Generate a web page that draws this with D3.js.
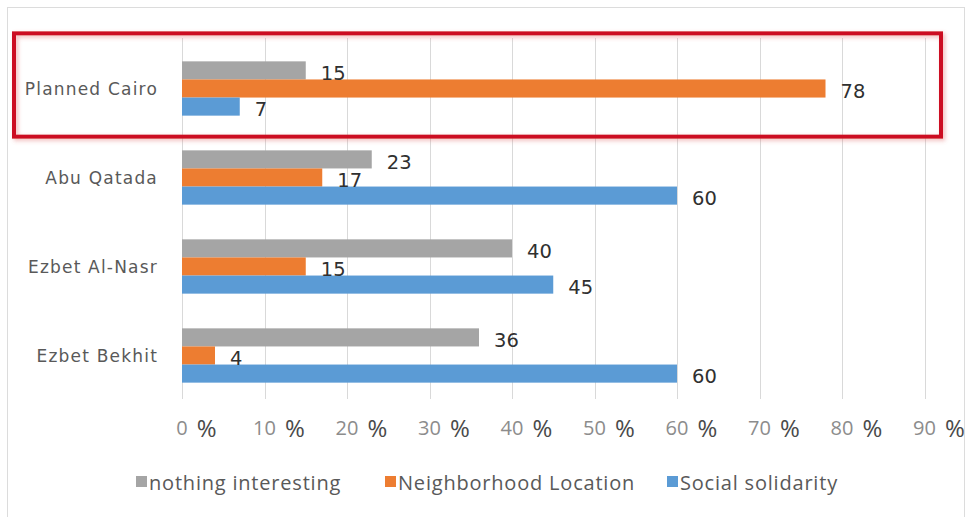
<!DOCTYPE html>
<html>
<head>
<meta charset="utf-8">
<script src="https://cdn.jsdelivr.net/npm/d3@7"></script>
<style>
  html, body { margin: 0; padding: 0; background: #fff; }
  svg { display: block; }
</style>
</head>
<body>
<svg id="chart" width="967" height="517"></svg>
<script>
// Neighbourhoods, top to bottom
const categories = ["Planned Cairo", "Abu Qatada", "Ezbet Al-Nasr", "Ezbet Bekhit"];
// Series (percent of respondents)
const seriesNames = ["nothing interesting", "Neighborhood Location", "Social solidarity"];
const nothingInteresting = [15, 23, 40, 36];
const neighborhoodLocation = [78, 17, 15, 4];
const socialSolidarity = [7, 60, 45, 60];
const tickValues = [0, 10, 20, 30, 40, 50, 60, 70, 80, 90];
const highlighted = "Planned Cairo";

const colors = ["#a5a5a5", "#ed7d31", "#5b9bd5"];
const seriesValues = [nothingInteresting, neighborhoodLocation, socialSolidarity];

const svg = d3.select("#chart");

// chart frame
svg.append("rect")
  .attr("x", 7.5).attr("y", 7.5).attr("width", 957).attr("height", 530)
  .attr("fill", "#fff").attr("stroke", "#dcdcdc").attr("stroke-width", 1);

const x = d3.scaleLinear().domain([0, 90]).range([182, 924.5]);
const y = d3.scaleBand().domain(categories).range([44, 400]).paddingInner(0.39).paddingOuter(0.195);
const ySub = d3.scaleBand().domain(seriesNames).range([0, y.bandwidth()]);

// vertical gridlines
svg.append("g").selectAll("line").data(tickValues).join("line")
  .attr("x1", d => Math.round(x(d)) + 0.5).attr("x2", d => Math.round(x(d)) + 0.5)
  .attr("y1", 38).attr("y2", 399)
  .attr("stroke", "#d9d9d9").attr("stroke-width", 1);

// bars
const rows = categories.map((c, i) => ({
  cat: c,
  vals: seriesNames.map((s, j) => ({ series: s, value: seriesValues[j][i], color: colors[j] }))
}));

const groups = svg.append("g").selectAll("g").data(rows).join("g")
  .attr("transform", d => `translate(0,${y(d.cat)})`);

groups.selectAll("rect").data(d => d.vals).join("rect")
  .attr("x", x(0))
  .attr("y", d => ySub(d.series))
  .attr("width", d => x(d.value) - x(0))
  .attr("height", ySub.bandwidth())
  .attr("fill", d => d.color);

groups.selectAll("text").data(d => d.vals).join("text")
  .attr("x", d => x(d.value) + 15)
  .attr("y", d => ySub(d.series) + ySub.bandwidth() / 2 + 3)
  .attr("dominant-baseline", "central")
  .attr("font-family", "DejaVu Sans, sans-serif")
  .attr("font-size", 19.5)
  .attr("fill", "#303030")
  .text(d => d.value);

// category labels
svg.append("g").selectAll("text").data(categories).join("text")
  .attr("x", 158)
  .attr("y", d => y(d) + y.bandwidth() / 2)
  .attr("dominant-baseline", "central")
  .attr("text-anchor", "end")
  .attr("font-family", "DejaVu Sans, sans-serif")
  .attr("font-size", 17)
  .attr("letter-spacing", 1.2)
  .attr("fill", "#595959")
  .text(d => d);

// x tick labels: number centred on the gridline, percent sign after it
const tickG = svg.append("g").selectAll("g").data(tickValues).join("g")
  .attr("transform", d => `translate(${x(d)},0)`);
tickG.append("text")
  .attr("class", "num")
  .attr("x", 0).attr("y", 435)
  .attr("text-anchor", "middle")
  .attr("font-family", "Open Sans, sans-serif")
  .attr("font-size", 20)
  .attr("fill", "#8c8c8c")
  .text(d => d);
tickG.each(function () {
  const g = d3.select(this);
  const w = g.select("text.num").node().getComputedTextLength();
  g.append("text")
    .attr("x", w / 2 + 9)
    .attr("y", 437)
    .attr("font-family", "Open Sans, sans-serif")
    .attr("font-size", 24)
    .attr("fill", "#4a4a4a")
    .text("%");
});

// legend
const legendX = [136, 385, 667];
const legend = svg.append("g").selectAll("g").data(seriesNames).join("g")
  .attr("transform", (d, i) => `translate(${legendX[i]},482)`);
legend.append("rect")
  .attr("x", 0).attr("y", -6).attr("width", 11).attr("height", 11)
  .attr("fill", (d, i) => colors[i]);
legend.append("text")
  .attr("x", 13).attr("y", 0)
  .attr("dominant-baseline", "central")
  .attr("font-family", "Open Sans, sans-serif")
  .attr("font-size", 20)
  .attr("letter-spacing", 0.8)
  .attr("fill", "#595959")
  .text(d => d);

// highlight frame around the first category
const defs = svg.append("defs");
const f = defs.append("filter").attr("id", "glow").attr("x", "-5%").attr("y", "-20%").attr("width", "110%").attr("height", "140%");
f.append("feGaussianBlur").attr("in", "SourceAlpha").attr("stdDeviation", 2).attr("result", "b");
f.append("feOffset").attr("in", "b").attr("dx", 1.5).attr("dy", 1.5).attr("result", "o");
f.append("feFlood").attr("flood-color", "#e06060").attr("flood-opacity", 0.45);
f.append("feComposite").attr("in2", "o").attr("operator", "in").attr("result", "s");
const m = f.append("feMerge");
m.append("feMergeNode").attr("in", "s");
m.append("feMergeNode").attr("in", "SourceGraphic");

const hy = y(highlighted);
svg.append("rect")
  .attr("x", 14).attr("y", hy - 28)
  .attr("width", 927).attr("height", y.bandwidth() + 49)
  .attr("fill", "none")
  .attr("stroke", "#cc1020").attr("stroke-width", 4)
  .attr("filter", "url(#glow)");
</script>
</body>
</html>
